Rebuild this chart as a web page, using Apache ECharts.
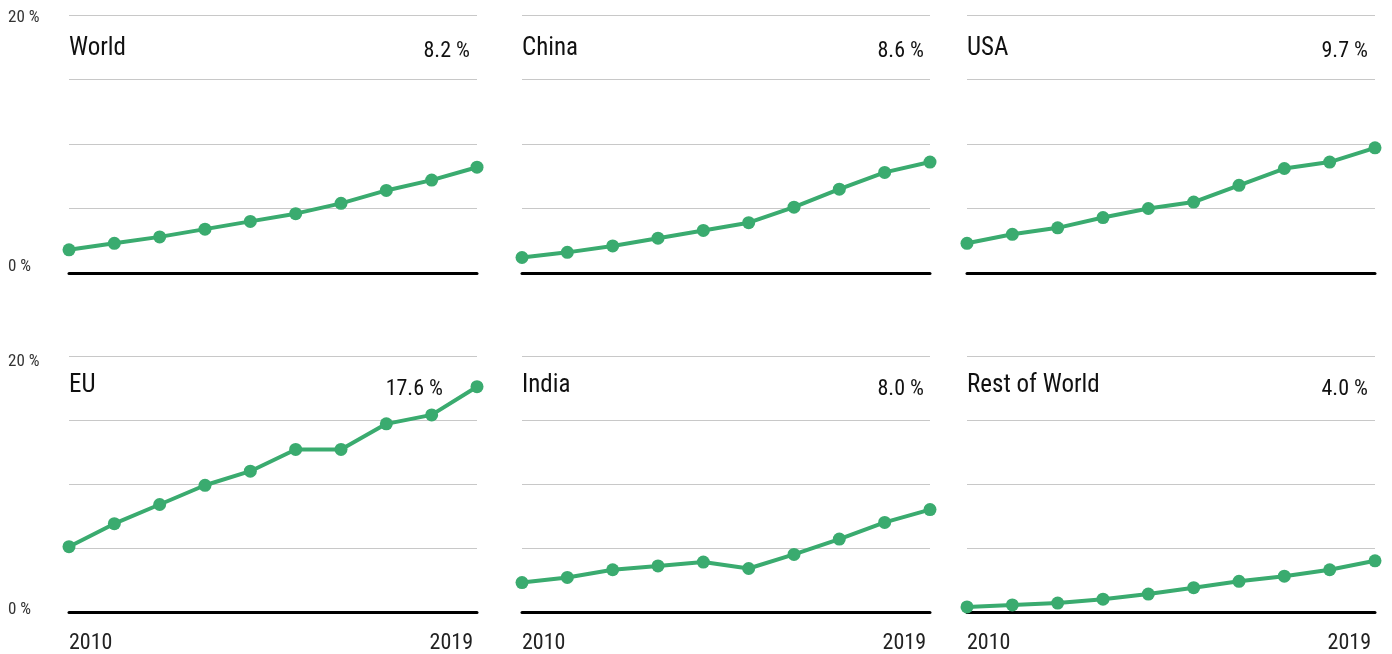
<!DOCTYPE html>
<html>
<head>
<meta charset="utf-8">
<script src="https://cdn.jsdelivr.net/npm/echarts@6/dist/echarts.min.js"></script>
<style>
  html, body { margin: 0; padding: 0; background: #fff; }
  #chart { width: 1392px; height: 654px; }
</style>
</head>
<body>
<div id="chart"></div>
<script>
// years on the x axis
var years = ['2010', '2011', '2012', '2013', '2014', '2015', '2016', '2017', '2018', '2019'];

// share values in %
var world = [1.8, 2.3, 2.8, 3.4, 4.0, 4.6, 5.4, 6.4, 7.2, 8.2];
var china = [1.2, 1.6, 2.1, 2.7, 3.3, 3.9, 5.1, 6.5, 7.8, 8.6];
var usa = [2.3, 3.0, 3.5, 4.3, 5.0, 5.5, 6.8, 8.1, 8.6, 9.7];
var eu = [5.1, 6.9, 8.4, 9.9, 11.0, 12.7, 12.7, 14.7, 15.4, 17.6];
var india = [2.3, 2.7, 3.3, 3.6, 3.9, 3.4, 4.5, 5.7, 7.0, 8.0];
var restOfWorld = [0.4, 0.55, 0.7, 1.0, 1.4, 1.9, 2.4, 2.8, 3.3, 4.0];

var panelNames = ['World', 'China', 'USA', 'EU', 'India', 'Rest of World'];
var panelData = [world, china, usa, eu, india, restOfWorld];
var lastLabels = ['8.2 %', '8.6 %', '9.7 %', '17.6 %', '8.0 %', '4.0 %'];

var font = "'Liberation Sans Narrow', 'Roboto Condensed', 'DejaVu Sans Condensed', sans-serif";
var green = '#3aab6f';

var colLeft = [69, 522, 967];
var valueRight = [922, 468, 24];
var rowTop = [15, 356];
var rowHeight = [258, 256];
var plotWidth = 408;
// the y labels sit a bit off their lines in the original
var yLabelRich = [
  { hi: { padding: [6, 0, 0, 0] }, lo: { padding: [0, 0, 12, 0] } },
  { hi: { padding: [12, 0, 0, 0] }, lo: { padding: [0, 0, 4, 0] } }
];

var grids = [], xAxes = [], yAxes = [], series = [], titles = [];

panelData.forEach(function (data, i) {
  var row = Math.floor(i / 3), col = i % 3;
  grids.push({
    left: colLeft[col],
    top: rowTop[row],
    width: plotWidth,
    height: rowHeight[row]
  });
  xAxes.push({
    gridIndex: i,
    type: 'category',
    data: years,
    boundaryGap: false,
    axisLine: { lineStyle: { color: '#000', width: 3 } },
    axisTick: { show: false },
    axisLabel: {
      show: row === 1,
      interval: function (idx) { return idx === 0 || idx === years.length - 1; },
      alignMinLabel: 'left',
      alignMaxLabel: 'right',
      margin: 20,
      fontSize: 22,
      fontFamily: font,
      color: '#222',
      formatter: function (v) { return v === '2019' ? '{r|' + v + '}' : v; },
      rich: { r: { fontSize: 22, fontFamily: font, color: '#222', padding: [0, 4, 0, 0] } }
    }
  });
  yAxes.push({
    gridIndex: i,
    type: 'value',
    min: 0,
    max: 20,
    interval: 5,
    axisLine: { show: false },
    axisTick: { show: false },
    splitLine: { lineStyle: { color: '#c8c8c8', width: 1 } },
    axisLabel: {
      show: col === 0,
      align: 'left',
      margin: 61,
      fontSize: 17,
      fontFamily: font,
      color: '#333',
      rich: {
        hi: Object.assign({ fontSize: 17, fontFamily: font, color: '#333' }, yLabelRich[row].hi),
        lo: Object.assign({ fontSize: 17, fontFamily: font, color: '#333' }, yLabelRich[row].lo)
      },
      formatter: function (v) {
        if (v === 20) return '{hi|20 %}';
        if (v === 0) return '{lo|0 %}';
        return '';
      }
    }
  });
  series.push({
    type: 'line',
    xAxisIndex: i,
    yAxisIndex: i,
    data: data,
    symbol: 'circle',
    symbolSize: 13,
    showSymbol: true,
    lineStyle: { color: green, width: 4 },
    itemStyle: { color: green },
    animation: false,
    z: 3
  });
  titles.push({
    text: panelNames[i],
    left: colLeft[col] - 5,
    top: rowTop[row] + (row === 0 ? 16 : 12),
    textStyle: { fontFamily: font, fontSize: 25, fontWeight: 'normal', color: '#111' }
  });
  titles.push({
    text: lastLabels[i],
    right: (i === 3 ? 949 : valueRight[col]) - 5,
    top: rowTop[row] + (row === 0 ? 20 : 17),
    textStyle: { fontFamily: font, fontSize: 22, fontWeight: 'normal', color: '#111' }
  });
});

var chart = echarts.init(document.getElementById('chart'));
chart.setOption({
  animation: false,
  title: titles,
  grid: grids,
  xAxis: xAxes,
  yAxis: yAxes,
  series: series
});
</script>
</body>
</html>
